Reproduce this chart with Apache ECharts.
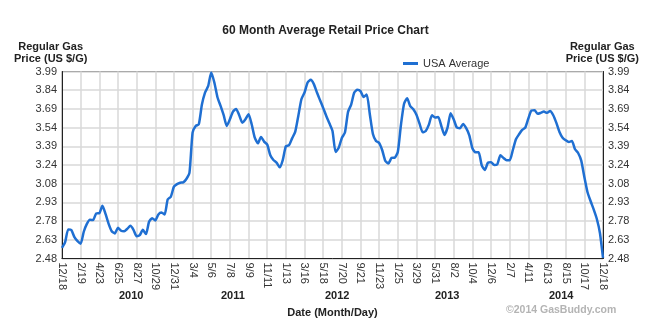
<!DOCTYPE html>
<html>
<head>
<meta charset="utf-8">
<title>60 Month Average Retail Price Chart</title>
<script src="https://cdn.jsdelivr.net/npm/echarts@6/dist/echarts.min.js"></script>
<style>
  html, body { margin: 0; padding: 0; background: #ffffff; }
  #chart { width: 651px; height: 327px; }
</style>
</head>
<body>
<div id="chart"></div>
<script>
// Date ticks along the bottom, every 9 weeks from 12/18/2009 to 12/18/2014
const xTickLabels = ['12/18','2/19','4/23','6/25','8/27','10/29','12/31','3/4','5/6','7/8',
  '9/9','11/11','1/13','3/16','5/18','7/20','9/21','11/23','1/25','3/29',
  '5/31','8/2','10/4','12/6','2/7','4/11','6/13','8/15','10/17','12/18'];

// Price ticks shared by the left and right axes
const yTickLabels = ['2.48','2.63','2.78','2.93','3.08','3.24','3.39','3.54','3.69','3.84','3.99'];

// Year captions under the date ticks
const yearLabels = ['2010','2011','2012','2013','2014'];

// USA average regular price (US $/gal), six readings per 9-week tick
const usaAverage = [
  2.566, 2.612, 2.715, 2.710, 2.652, 2.620, 2.600, 2.696, 2.760, 2.793,
  2.790, 2.844, 2.846, 2.906, 2.840, 2.760, 2.700, 2.682, 2.728, 2.704,
  2.701, 2.720, 2.744, 2.712, 2.660, 2.668, 2.712, 2.677, 2.777, 2.806,
  2.787, 2.836, 2.852, 2.836, 2.957, 2.979, 3.060, 3.081, 3.092, 3.095,
  3.122, 3.173, 3.497, 3.550, 3.564, 3.723, 3.820, 3.871, 3.982, 3.901,
  3.782, 3.712, 3.637, 3.550, 3.604, 3.666, 3.688, 3.637, 3.577, 3.604,
  3.645, 3.564, 3.456, 3.410, 3.462, 3.424, 3.400, 3.313, 3.275, 3.254,
  3.216, 3.275, 3.386, 3.394, 3.450, 3.502, 3.631, 3.766, 3.820, 3.901,
  3.923, 3.888, 3.820, 3.758, 3.696, 3.631, 3.572, 3.510, 3.340, 3.375,
  3.453, 3.497, 3.664, 3.723, 3.820, 3.842, 3.831, 3.785, 3.804, 3.645,
  3.486, 3.429, 3.413, 3.354, 3.267, 3.248, 3.292, 3.294, 3.340, 3.556,
  3.728, 3.774, 3.710, 3.685, 3.640, 3.569, 3.499, 3.510, 3.561, 3.637,
  3.618, 3.623, 3.550, 3.478, 3.537, 3.653, 3.602, 3.537, 3.532, 3.567,
  3.532, 3.475, 3.370, 3.337, 3.337, 3.232, 3.195, 3.254, 3.257, 3.235,
  3.240, 3.313, 3.292, 3.273, 3.273, 3.356, 3.443, 3.483, 3.518, 3.537,
  3.612, 3.675, 3.677, 3.648, 3.656, 3.666, 3.656, 3.672, 3.637, 3.575,
  3.502, 3.456, 3.435, 3.421, 3.429, 3.362, 3.332, 3.270, 3.138, 3.017,
  2.944, 2.876, 2.801, 2.688, 2.485
];

const Y_MIN = 2.48, Y_MAX = 3.99, Y_STEP = 0.151;
const STEPS_PER_TICK = 6;

const seriesData = usaAverage.map((v, i) => [i / STEPS_PER_TICK, v]);

const labelFont = 'Arial, "Liberation Sans", sans-serif';

const yAxisBase = {
  type: 'value',
  min: Y_MIN,
  max: Y_MAX,
  interval: Y_STEP,
  axisLine: { show: true, lineStyle: { color: '#222', width: 1 } },
  axisTick: { show: false },
  axisLabel: {
    color: '#333', fontSize: 11, fontFamily: labelFont, margin: 5,
    formatter: v => yTickLabels[Math.round((v - Y_MIN) / Y_STEP)]
  }
};

const chart = echarts.init(document.getElementById('chart'), null, { renderer: 'canvas' });

chart.setOption({
  animation: false,
  backgroundColor: '#ffffff',
  title: {
    text: '60 Month Average Retail Price Chart',
    left: 'center',
    top: 20,
    textStyle: { fontSize: 12, fontWeight: 'bold', color: '#222', fontFamily: labelFont }
  },
  legend: {
    data: ['USA Average'],
    left: 398,
    top: 53,
    icon: 'rect',
    itemWidth: 15,
    itemHeight: 3,
    itemGap: 10,
    textStyle: { fontSize: 11, color: '#333', fontFamily: labelFont }
  },
  grid: { left: 62, right: 48, top: 71.5, bottom: 68.5, containLabel: false,
          show: true, borderColor: '#222', borderWidth: 1 },
  xAxis: {
    type: 'value',
    min: 0,
    max: xTickLabels.length - 1,
    interval: 1,
    name: 'Date (Month/Day)',
    nameLocation: 'middle',
    nameGap: 49,
    nameTextStyle: { fontSize: 11, fontWeight: 'bold', color: '#222', fontFamily: labelFont },
    axisLine: { show: true, onZero: false, lineStyle: { color: '#222', width: 1 } },
    axisTick: { show: false },
    axisLabel: {
      rotate: -90, color: '#333', fontSize: 11, fontFamily: labelFont, margin: 4,
      formatter: v => xTickLabels[Math.round(v)]
    },
    splitLine: { show: true, lineStyle: { color: '#d9d9d9', width: 1.5 } }
  },
  yAxis: [
    Object.assign({}, yAxisBase, {
      position: 'left',
      splitLine: { show: true, lineStyle: { color: '#d9d9d9', width: 1.5 } }
    }),
    Object.assign({}, yAxisBase, {
      position: 'right',
      splitLine: { show: false }
    })
  ],
  series: [{
    name: 'USA Average',
    type: 'line',
    data: seriesData,
    yAxisIndex: 0,
    showSymbol: false,
    smooth: 0.2,
    lineStyle: { color: '#1f6fd2', width: 2.5 },
    itemStyle: { color: '#1f6fd2' },
    z: 5
  }],
  graphic: [
    {
      type: 'text', left: 14, top: 41,
      style: { text: 'Regular Gas\nPrice (US $/G)', fill: '#222', font: 'bold 11px ' + labelFont,
               textAlign: 'center', lineHeight: 12 }
    },
    {
      type: 'text', right: 12, top: 41,
      style: { text: 'Regular Gas\nPrice (US $/G)', fill: '#222', font: 'bold 11px ' + labelFont,
               textAlign: 'center', lineHeight: 12 }
    },
    { type: 'text', left: 119, top: 290, style: { text: yearLabels[0], fill: '#222', font: 'bold 11px ' + labelFont } },
    { type: 'text', left: 221, top: 290, style: { text: yearLabels[1], fill: '#222', font: 'bold 11px ' + labelFont } },
    { type: 'text', left: 325, top: 290, style: { text: yearLabels[2], fill: '#222', font: 'bold 11px ' + labelFont } },
    { type: 'text', left: 435, top: 290, style: { text: yearLabels[3], fill: '#222', font: 'bold 11px ' + labelFont } },
    { type: 'text', left: 549, top: 290, style: { text: yearLabels[4], fill: '#222', font: 'bold 11px ' + labelFont } },
    {
      type: 'text', left: 506, top: 305,
      style: { text: '\u00a92014 GasBuddy.com', fill: '#b4b4b4', font: 'bold 10.5px ' + labelFont }
    }
  ]
});
</script>
</body>
</html>
